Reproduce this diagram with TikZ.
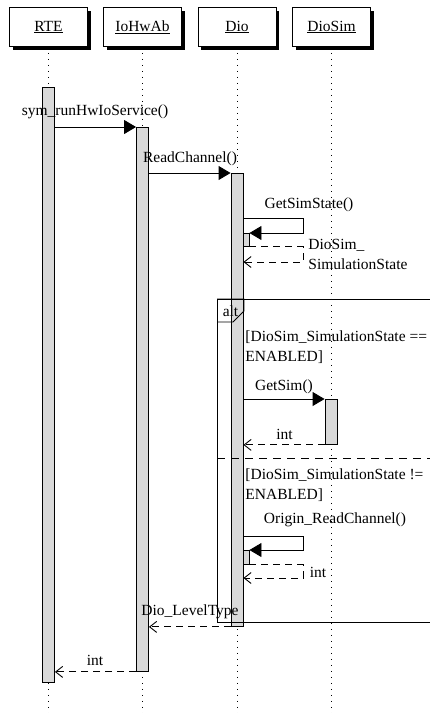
\documentclass[tikz,border=0pt]{standalone}
\usepackage{fontspec}
\setmainfont{Liberation Serif}
\usepackage{tikz}
\usetikzlibrary{arrows.meta, shadows}

\begin{document}
\begin{tikzpicture}[x=1pt, y=-1pt,
			line width=0.9pt,
			font=\fontsize{15.5}{20}\selectfont,
			call/.style={-{Triangle[length=12pt, width=14pt]}},
			reply/.style={-{Straight Barb[length=7pt, width=11pt]}, dash pattern=on 7pt off 5pt},
			head/.style={draw, fill=white, minimum width=78pt, minimum height=39pt, inner sep=0pt,
				drop shadow={opacity=1, fill=black, shadow xshift=3pt, shadow yshift=-3pt}},
			life/.style={line width=0.8pt, dash pattern=on 1pt off 5pt},
			bar/.style={draw, fill=black!15, minimum width=12pt, inner sep=0pt, anchor=north},
			lbl/.style={inner sep=1pt}]
			\useasboundingbox (0,0) rectangle (430,713);
			\coordinate (bottom) at (0,713);
			\node at (48.5,27) (rte) [head] {\underline{RTE}};
			\node at (142.5,27) (iohwab) [head] {\underline{IoHwAb}};
			\node at (237,27) (dio) [head] {\underline{Dio}};
			\node at (331.5,27) (diosim) [head] {\underline{DioSim}};
			\draw[life] (rte.south) -- (rte.south |- bottom);
			\draw[life] (iohwab.south) -- (iohwab.south |- bottom);
			\draw[life] (dio.south) -- (dio.south |- bottom);
			\draw[life] (diosim.south) -- (diosim.south |- bottom);
			% activations
			\node at (48.5,87) (rtebar) [bar, minimum height=595pt] {};
			\node at (142.5,127) (iobar) [bar, minimum height=544pt] {};
			\node at (237,173) (diobar) [bar, minimum height=453pt] {};
			\node at (331,399) (simbar) [bar, minimum height=45pt] {};
			\node at (246,233) (selfa) [bar, minimum width=6pt, minimum height=13pt] {};
			\node at (246,550) (selfb) [bar, minimum width=6pt, minimum height=14pt] {};
			% alt frame
			\coordinate (altnw) at (217,299);
			\coordinate (altse) at (440,622);
			\draw (altnw) rectangle (altse);
			\draw (altnw) -- ++(27,0) -- ++(0,12) -- ++(-11,11) -- ++(-16,0);
			\draw[dash pattern=on 8pt off 6pt] (altnw |- 0,458) -- (altse |- 0,458);
			\node at (230.5,311) (alt) [lbl] {alt};
			% messages
			\coordinate (gs) at (303,218);
			\coordinate (gsr) at (303,262);
			\coordinate (orc) at (303,536);
			\coordinate (orr) at (303,578);
			\draw[call] (rtebar.east |- iobar.north) -- (iobar.north west);
			\draw[call] (iobar.east |- diobar.north) -- (diobar.north west);
			\draw[call] (diobar.east |- gs) -- (gs) |- (selfa.north east);
			\draw[reply] (selfa.south east) -| (gsr) -- (diobar.east |- gsr);
			\draw[call] (diobar.east |- simbar.north) -- (simbar.north west);
			\draw[reply] (simbar.south west) -- (diobar.east |- simbar.south);
			\draw[call] (diobar.east |- orc) -- (orc) |- (selfb.north east);
			\draw[reply] (selfb.south east) -| (orr) -- (diobar.east |- orr);
			\draw[reply] (diobar.south west) -- (iobar.east |- diobar.south);
			\draw[reply] (iobar.south west) -- (rtebar.east |- iobar.south);
			% labels
			\node at (95,112) (runsvc) [lbl] {sym\_runHwIoService()};
			\node at (190,159) (readch) [lbl] {ReadChannel()};
			\node at (309,205) (getstate) [lbl] {GetSimState()};
			\node at (307,254) (simstate) [lbl, anchor=west, align=left] {DioSim\_\\SimulationState};
			\node at (244,347.5) (guardon) [lbl, anchor=west, align=left] {[DioSim\_SimulationState ==\\ENABLED]};
			\node at (284,387) (getsim) [lbl] {GetSim()};
			\node at (284.5,434) (intsim) [lbl] {int};
			\node at (244,485) (guardoff) [lbl, anchor=west, align=left] {[DioSim\_SimulationState !=\\ENABLED]};
			\node at (335,520) (origin) [lbl] {Origin\_ReadChannel()};
			\node at (318,572) (intorig) [lbl] {int};
			\node at (190,612) (level) [lbl] {Dio\_LevelType};
			\node at (95,660) (intrte) [lbl] {int};
		\end{tikzpicture}
\end{document}
